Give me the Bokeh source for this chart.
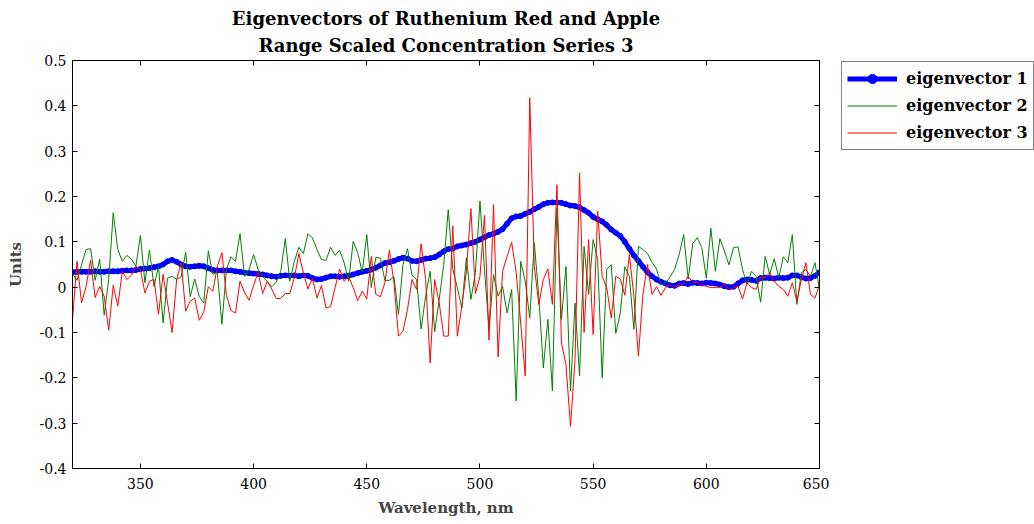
from bokeh.plotting import figure
from bokeh.layouts import row
from bokeh.models import (Range1d, LinearAxis, FixedTicker, CustomJSTickFormatter,
                          Legend, LegendItem, ColumnDataSource, Title)
from bokeh.embed import file_html
from bokeh.resources import INLINE

# ---------------- data ----------------
wavelength = list(range(320, 652, 2))  # nm sampling grid (166 points)

eigenvector_1 = [
    0.033, 0.034, 0.034, 0.034, 0.034, 0.035, 0.034, 0.034, 0.035, 0.035,
    0.035, 0.036, 0.037, 0.037, 0.038, 0.040, 0.041, 0.042, 0.044, 0.046,
    0.050, 0.057, 0.060, 0.056, 0.050, 0.046, 0.045, 0.046, 0.047, 0.046,
    0.042, 0.038, 0.037, 0.037, 0.037, 0.037, 0.035, 0.034, 0.032, 0.031,
    0.030, 0.029, 0.028, 0.026, 0.024, 0.023, 0.025, 0.026, 0.025, 0.026,
    0.024, 0.026, 0.025, 0.020, 0.017, 0.018, 0.021, 0.024, 0.024, 0.023,
    0.024, 0.025, 0.028, 0.031, 0.034, 0.036, 0.039, 0.043, 0.048, 0.053,
    0.055, 0.058, 0.062, 0.065, 0.063, 0.058, 0.057, 0.060, 0.063, 0.064,
    0.066, 0.072, 0.079, 0.084, 0.085, 0.090, 0.092, 0.094, 0.097, 0.100,
    0.105, 0.110, 0.115, 0.118, 0.122, 0.128, 0.140, 0.152, 0.156, 0.157,
    0.162, 0.166, 0.172, 0.177, 0.183, 0.186, 0.187, 0.187, 0.186, 0.183,
    0.180, 0.179, 0.176, 0.170, 0.164, 0.155, 0.150, 0.145, 0.137, 0.127,
    0.120, 0.113, 0.100, 0.085, 0.070, 0.058, 0.045, 0.033, 0.024, 0.017,
    0.012, 0.008, 0.004, 0.003, 0.008, 0.009, 0.007, 0.010, 0.009, 0.008,
    0.010, 0.009, 0.008, 0.006, 0.002, 0.000, 0.001, 0.008, 0.015, 0.017,
    0.016, 0.014, 0.020, 0.021, 0.020, 0.019, 0.021, 0.020, 0.021, 0.026,
    0.026, 0.022, 0.019, 0.020, 0.025, 0.033,
]

eigenvector_2 = [
    0.030, 0.015, 0.050, 0.083, 0.085, 0.015, 0.062, -0.062, 0.017, 0.164,
    0.083, 0.057, 0.070, 0.062, 0.046, 0.114, 0.010, 0.082, 0.002, 0.046,
    -0.079, 0.020, 0.024, 0.017, 0.023, 0.077, -0.021, 0.018, -0.021, -0.035,
    0.080, 0.028, 0.033, -0.082, 0.039, 0.067, 0.057, 0.118, 0.024, 0.039,
    0.072, 0.039, 0.024, 0.013, 0.001, 0.011, 0.035, 0.107, 0.013, 0.057,
    0.088, 0.074, 0.118, 0.109, 0.083, 0.061, 0.059, 0.088, 0.070, 0.082,
    0.054, 0.013, 0.101, 0.076, 0.033, 0.116, -0.001, 0.066, 0.064, 0.015,
    0.015, 0.023, -0.060, 0.050, 0.085, 0.026, 0.017, -0.092, -0.020, 0.035,
    -0.099, -0.027, 0.050, 0.171, 0.039, -0.001, -0.046, 0.065, -0.027, 0.032,
    0.190, 0.039, -0.093, 0.028, -0.020, 0.002, -0.057, -0.005, -0.251, 0.057,
    0.013, -0.068, 0.098, -0.020, -0.178, -0.071, -0.229, 0.175, -0.071, 0.046,
    -0.229, -0.035, -0.196, 0.090, -0.016, 0.105, 0.061, -0.200, 0.039, 0.050,
    -0.102, -0.057, 0.045, 0.024, -0.093, 0.090, 0.083, 0.074, 0.055, 0.040,
    0.006, 0.008, 0.023, 0.039, 0.072, 0.116, 0.018, 0.096, 0.109, 0.087,
    0.020, 0.130, 0.035, 0.107, 0.080, 0.049, 0.087, 0.089, 0.039, 0.006,
    0.035, 0.024, -0.033, 0.068, 0.028, 0.063, 0.021, 0.067, 0.054, 0.116,
    -0.038, 0.032, 0.039, 0.024, 0.054, -0.005,
]

eigenvector_3 = [
    -0.071, 0.057, -0.035, 0.001, 0.060, -0.023, 0.002, -0.020, -0.095, 0.004,
    -0.042, 0.035, 0.017, 0.026, 0.046, 0.039, -0.013, 0.013, 0.017, -0.060,
    0.028, -0.035, -0.100, 0.017, 0.054, -0.053, -0.031, -0.024, -0.073, -0.055,
    0.001, -0.009, 0.046, 0.076, -0.018, -0.051, -0.057, 0.013, -0.011, -0.029,
    0.004, 0.033, -0.014, 0.013, -0.004, -0.025, -0.025, -0.014, -0.014, 0.021,
    0.074, 0.032, -0.004, 0.020, -0.024, 0.004, -0.046, -0.043, -0.001, 0.040,
    0.013, 0.023, -0.001, -0.030, -0.009, -0.026, 0.068, -0.016, -0.021, 0.010,
    0.082, 0.010, -0.108, -0.097, -0.049, 0.017, -0.005, 0.096, 0.017, -0.167,
    0.017, -0.035, -0.108, -0.108, 0.135, -0.108, -0.042, 0.035, 0.173, -0.014,
    0.024, 0.158, -0.117, 0.182, -0.154, 0.035, 0.068, 0.099, 0.032, -0.079,
    -0.196, 0.418, 0.046, -0.038, 0.017, 0.040, -0.038, 0.226, -0.123, -0.171,
    -0.307, -0.160, 0.252, -0.100, 0.105, -0.104, 0.168, 0.024, -0.001, -0.068,
    0.024, 0.018, -0.018, 0.072, -0.020, -0.152, -0.016, 0.050, -0.016, 0.001,
    -0.018, -0.001, 0.005, 0.001, 0.004, 0.008, 0.024, 0.010, 0.011, 0.004,
    0.002, -0.001, -0.001, -0.001, 0.006, -0.005, -0.001, 0.002, -0.026, 0.010,
    -0.001, -0.005, 0.023, 0.021, 0.032, 0.013, 0.002, -0.005, -0.020, 0.010,
    -0.031, 0.017, 0.054, -0.016, -0.024, 0.006,
]

x_ticks = [350, 400, 450, 500, 550, 600, 650]
y_ticks = [-0.4, -0.3, -0.2, -0.1, 0.0, 0.1, 0.2, 0.3, 0.4, 0.5]
series_names = ["eigenvector 1", "eigenvector 2", "eigenvector 3"]
title_lines = ["Eigenvectors of Ruthenium Red and Apple",
               "Range Scaled Concentration Series 3"]

FONT = "DejaVu Serif"
BLUE, GREEN, RED = "#0000ff", "#008000", "#ff0000"

# ---------------- main figure ----------------
p = figure(frame_width=747, frame_height=408, output_backend="svg", toolbar_location=None,
           title=None,
           x_range=Range1d(320, 650), y_range=Range1d(-0.4, 0.5),
           min_border_left=72, min_border_right=10, min_border_top=60,
           min_border_bottom=51, x_axis_location=None, y_axis_location=None)

p.grid.visible = False
p.outline_line_color = "black"
p.outline_line_width = 1
p.background_fill_color = "white"
p.border_fill_color = "white"

yfmt = CustomJSTickFormatter(code="return Number(tick.toFixed(1)).toString();")
blankfmt = CustomJSTickFormatter(code="return '';")


def style_axis(ax, labels=True):
    ax.major_tick_in = 5
    ax.major_tick_out = 0
    ax.minor_tick_in = 0
    ax.minor_tick_out = 0
    ax.axis_line_color = "black"
    ax.major_tick_line_color = "black"
    ax.major_label_text_font = FONT
    ax.major_label_text_font_size = "14px"
    ax.major_label_text_color = "black"
    if not labels:
        ax.formatter = blankfmt
        ax.major_label_standoff = 0


xb = LinearAxis(ticker=FixedTicker(ticks=x_ticks), axis_label="Wavelength, nm")
style_axis(xb)
xb.major_label_standoff = 9
xb.axis_label_standoff = 7
xb.axis_label_text_font = FONT
xb.axis_label_text_font_style = "bold"
xb.axis_label_text_font_size = "15px"
p.add_layout(xb, "below")

yl = LinearAxis(ticker=FixedTicker(ticks=y_ticks), formatter=yfmt, axis_label="Units")
style_axis(yl)
yl.major_label_standoff = 6
yl.axis_label_standoff = 12
yl.axis_label_text_font = FONT
yl.axis_label_text_font_style = "bold"
yl.axis_label_text_font_size = "15px"
p.add_layout(yl, "left")

xt = LinearAxis(ticker=FixedTicker(ticks=x_ticks))
style_axis(xt, labels=False)
p.add_layout(xt, "above")

yr = LinearAxis(ticker=FixedTicker(ticks=y_ticks))
style_axis(yr, labels=False)
p.add_layout(yr, "right")

for i, line in enumerate(reversed(title_lines)):
    t = Title(text=line, align="center", text_font=FONT, text_font_style="bold",
              text_font_size="18px", text_color="black",
              standoff=(9 if i == 0 else 0), offset=0)
    p.add_layout(t, "above")

src = ColumnDataSource(dict(x=wavelength, e1=eigenvector_1, e2=eigenvector_2, e3=eigenvector_3))

p.line("x", "e1", source=src, line_color=BLUE, line_width=5)
p.scatter("x", "e1", source=src, marker="circle", size=5, fill_color=BLUE, line_color=BLUE)
p.line("x", "e2", source=src, line_color=GREEN, line_width=1)
p.line("x", "e3", source=src, line_color=RED, line_width=1)

# ---------------- legend panel (second figure, to the right) ----------------
lg = figure(width=205, height=519, output_backend="svg", toolbar_location=None,
            title=None, x_range=Range1d(0, 1), y_range=Range1d(0, 1),
            min_border_left=11, min_border_right=0, min_border_bottom=0,
            min_border_top=60, x_axis_location=None, y_axis_location=None)
lg.grid.visible = False
lg.outline_line_color = None
lg.background_fill_color = "white"
lg.border_fill_color = "white"

l1 = lg.line("x", "e1", source=src, line_color=BLUE, line_width=5)
l1m = lg.scatter("x", "e1", source=src, marker="circle", size=3, fill_color=BLUE, line_color=BLUE)
l2 = lg.line("x", "e2", source=src, line_color=GREEN, line_width=1)
l3 = lg.line("x", "e3", source=src, line_color=RED, line_width=1)

legend = Legend(items=[
    LegendItem(label=series_names[0], renderers=[l1, l1m]),
    LegendItem(label=series_names[1], renderers=[l2]),
    LegendItem(label=series_names[2], renderers=[l3]),
], location="top_left")
legend.label_text_font = FONT
legend.label_text_font_style = "bold"
legend.label_text_font_size = "16px"
legend.label_text_color = "black"
legend.glyph_width = 50
legend.glyph_height = 23
legend.label_standoff = 9
legend.spacing = 4
legend.padding = 5
legend.margin = 1
legend.border_line_color = "black"
legend.border_line_width = 1
legend.background_fill_color = "white"
legend.background_fill_alpha = 1.0
lg.add_layout(legend, "center")

layout = row(p, lg, spacing=0)

open("out.html", "w").write(file_html(layout, INLINE))
